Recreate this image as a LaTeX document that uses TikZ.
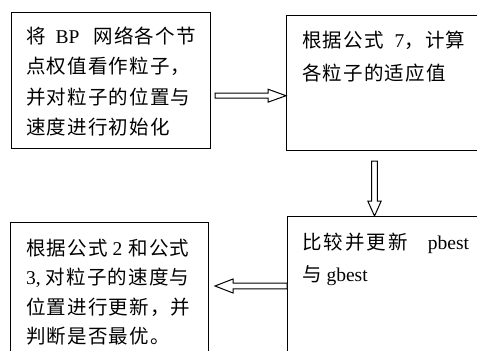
\documentclass[tikz,border=0pt]{standalone}
\usepackage{fontspec}
\setmainfont{Liberation Serif}
\newfontfamily\cjk[LetterSpace=6]{Noto Sans CJK SC}
\newfontfamily\cjkw[LetterSpace=10.5]{Noto Sans CJK SC}
\newcommand\zh[1]{{\cjk #1}}
\newcommand\zhw[1]{{\cjkw #1}}
\usetikzlibrary{calc}
\begin{document}
\begin{tikzpicture}[x=1pt,y=-1pt,
  box/.style={draw,line width=1.1pt,inner sep=0,anchor=north west},
  txt/.style={inner sep=0,anchor=base west,font=\fontsize{19.5}{30}\selectfont},
  hollow/.style={draw,line width=1pt,fill=white,line join=miter}]
\clip (0,0) rectangle (477,351);
\fill[white] (0,0) rectangle (477,351);
% boxes
\node[box,minimum width=199,minimum height=136] (b1) at (11,12) {};
\node[box,minimum width=230,minimum height=135] (b2) at (286,15) {};
\node[box,minimum width=230,minimum height=200] (b3) at (287,216) {};
\node[box,minimum width=198,minimum height=200] (b4) at (10,222) {};
% box 1 text
\node[txt] (t11) at (26,43.6) {\zh{将}\hspace{10pt}BP\hspace{14pt}\zh{网络各个节}};
\node[txt] (t12) at (26,73.9) {\zh{点权值看作粒子，}};
\node[txt] (t13) at (26,104.2) {\zh{并对粒子的位置与}};
\node[txt] (t14) at (26,134.5) {\zh{速度进行初始化}};
% box 2 text
\node[txt] (t21) at (302,47) {\zh{根据公式}\hspace{11pt}7\zh{，计算}};
\node[txt] (t22) at (302,80.3) {\zh{各粒子的适应值}};
% box 3 text
\node[txt] (t31) at (302,249) {\zhw{比较并更新}\hspace{20pt}pbest};
\node[txt] (t32) at (302,281) {\zh{与} gbest};
% box 4 text
\node[txt] (t41) at (26,255) {\zh{根据公式}\hspace{5pt}2\hspace{6pt}\zh{和公式}};
\node[txt] (t42) at (26,284.5) {3, \zh{对粒子的速度与}};
\node[txt] (t43) at (26,314) {\zh{位置进行更新，并}};
\node[txt] (t44) at (26,343) {\zh{判断是否最优。}};
% arrows
\coordinate (a1s) at (215,95.7);
\coordinate (a1t) at (b2.west |- a1s);
\draw[hollow] ($(a1s)+(0,-2.5)$) -- ($(a1t)+(-18,-2.5)$) -- ($(a1t)+(-18,-6.5)$) -- (a1t)
  -- ($(a1t)+(-18,6.5)$) -- ($(a1t)+(-18,2.5)$) -- ($(a1s)+(0,2.5)$) -- cycle;
\coordinate (a2s) at (374.5,161);
\coordinate (a2t) at (a2s |- b3.north);
\draw[hollow] ($(a2s)+(-2.8,0)$) -- ($(a2t)+(-2.8,-15)$) -- ($(a2t)+(-6.7,-15)$) -- (a2t)
  -- ($(a2t)+(6.7,-15)$) -- ($(a2t)+(2.8,-15)$) -- ($(a2s)+(2.8,0)$) -- cycle;
\coordinate (a3t) at (215,286);
\coordinate (a3s) at (b3.west |- a3t);
\draw[hollow] ($(a3s)+(0,-2.8)$) -- ($(a3t)+(18,-2.8)$) -- ($(a3t)+(18,-7)$) -- (a3t)
  -- ($(a3t)+(18,7)$) -- ($(a3t)+(18,2.8)$) -- ($(a3s)+(0,2.8)$) -- cycle;
\end{tikzpicture}
\end{document}
